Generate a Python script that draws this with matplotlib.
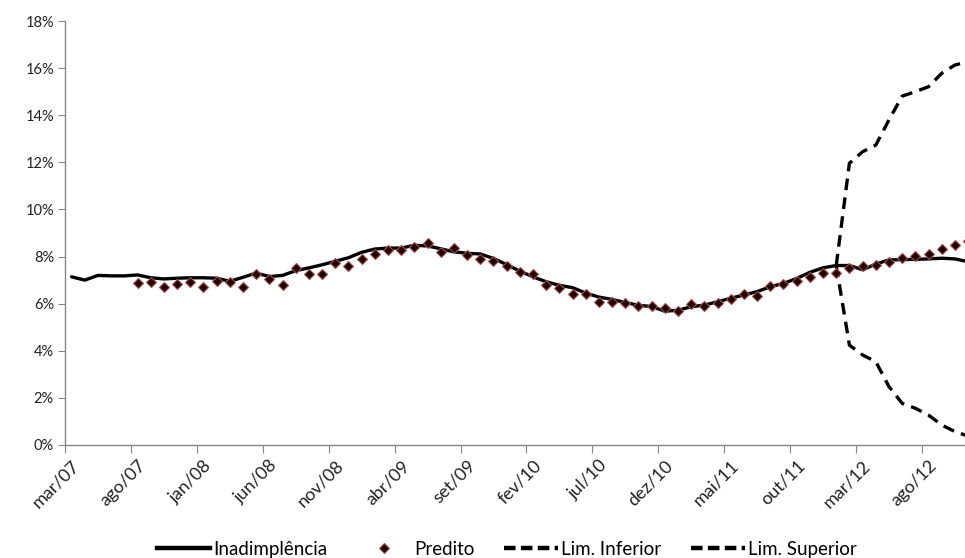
import numpy as np
import matplotlib
matplotlib.use("Agg")
import matplotlib.pyplot as plt
import matplotlib.transforms as mtransforms
from matplotlib.lines import Line2D

plt.rcParams['font.family'] = ['Lato', 'DejaVu Sans']

# monthly categories mar/07 .. nov/12 (69 months)
tick_labels = ["mar/07", "ago/07", "jan/08", "jun/08", "nov/08", "abr/09", "set/09",
               "fev/10", "jul/10", "dez/10", "mai/11", "out/11", "mar/12", "ago/12"]

inadimplencia = [7.14, 7.0, 7.2, 7.18, 7.18, 7.22, 7.1, 7.05, 7.08, 7.1,
                 7.1, 7.08, 6.95, 7.12, 7.3, 7.15, 7.2, 7.4, 7.52, 7.65,
                 7.8, 7.95, 8.18, 8.32, 8.36, 8.36, 8.48, 8.45, 8.33, 8.2,
                 8.14, 8.11, 7.92, 7.66, 7.38, 7.14, 6.93, 6.78, 6.68, 6.45,
                 6.28, 6.18, 6.05, 5.93, 5.88, 5.68, 5.72, 5.87, 5.94, 6.08,
                 6.23, 6.37, 6.51, 6.72, 6.86, 7.07, 7.33, 7.52, 7.62, 7.62,
                 7.44, 7.68, 7.86, 7.87, 7.88, 7.9, 7.93, 7.9, 7.78]

predito = [None] * 5 + [
    6.86, 6.93, 6.72, 6.82, 6.93, 6.72, 6.98, 6.92, 6.72, 7.28,
    7.06, 6.80, 7.52, 7.25, 7.24, 7.71, 7.58, 7.88, 8.10, 8.26,
    8.27, 8.41, 8.57, 8.20, 8.37, 8.08, 7.89, 7.83, 7.62, 7.33,
    7.27, 6.79, 6.65, 6.41, 6.41, 6.06, 6.08, 6.01, 5.90, 5.90,
    5.82, 5.70, 5.99, 5.89, 6.04, 6.18, 6.41, 6.32, 6.74, 6.83,
    6.95, 7.12, 7.29, 7.31, 7.52, 7.62, 7.64, 7.77, 7.95, 8.03,
    8.10, 8.30, 8.48, 8.66]

lim_inferior = [None] * 58 + [7.62, 4.24, 3.82, 3.54, 2.48, 1.77, 1.56, 1.27, 0.85, 0.57, 0.38]
lim_superior = [None] * 58 + [7.62, 11.96, 12.45, 12.73, 13.8, 14.81, 15.0, 15.21, 15.78, 16.13, 16.27]

def arr(v):
    return np.array([np.nan if a is None else a for a in v], dtype=float)

n = len(inadimplencia)
x = np.arange(n)

fig = plt.figure(figsize=(9.65, 5.58), dpi=100)
ax = fig.add_axes([65 / 965, 1 - 445 / 558, 1 - 65 / 965 + 0.01, (445 - 21) / 558])

ax.plot(x, arr(inadimplencia), color='black', lw=2.4, solid_capstyle='round', zorder=3)
ax.plot(x, arr(predito), ls='none', marker='D', ms=5.5, mfc='#1a0808', mec='#b04848',
        mew=0.8, zorder=4)
ax.plot(x, arr(lim_inferior), color='black', lw=2.4, ls=(0, (3.5, 2.2)), zorder=2)
ax.plot(x, arr(lim_superior), color='black', lw=2.4, ls=(0, (3.5, 2.2)), zorder=2)

ax.set_xlim(-0.5, n - 0.5)
ax.set_ylim(0, 18)
ax.set_yticks(np.arange(0, 19, 2))
ax.set_yticklabels([f"{v}%" for v in range(0, 19, 2)], fontsize=10.5, color='#222222')

# x ticks at category boundaries every 5 months, labels at categories
ax.set_xticks(np.arange(-0.5, n, 5))
ax.set_xticklabels([])
ax.set_xticks(np.arange(0, n, 5)[:len(tick_labels)], minor=True)
ax.set_xticklabels(tick_labels, minor=True, rotation=45, ha='right', va='top',
                   rotation_mode='anchor', fontsize=13, color='#222222')
offset = mtransforms.ScaledTranslation(6 / 100, 0, fig.dpi_scale_trans)
for lbl in ax.get_xticklabels(minor=True):
    lbl.set_transform(lbl.get_transform() + offset)
ax.tick_params(axis='x', which='minor', length=0, pad=9)
ax.tick_params(axis='x', which='major', length=6, color='#868686', direction='out')
ax.tick_params(axis='y', length=5, color='#868686', direction='out', pad=3)

for s in ['top', 'right']:
    ax.spines[s].set_visible(False)
for s in ['left', 'bottom']:
    ax.spines[s].set_color('#868686')
    ax.spines[s].set_linewidth(1.0)

handles = [
    Line2D([], [], color='black', lw=3.2),
    Line2D([], [], ls='none', marker='D', ms=5, mfc='#1a0808', mec='#b04848', mew=0.8),
    Line2D([], [], color='black', lw=3.2, ls=(0, (2.6, 1.2))),
    Line2D([], [], color='black', lw=3.2, ls=(0, (2.6, 1.2))),
]
labels = ["Inadimplência", "Predito", "Lim. Inferior", "Lim. Superior"]
fig.legend(handles, labels, loc='lower center', bbox_to_anchor=(0.525, -0.03), ncol=4,
           frameon=False, fontsize=13.5, handlelength=2.85, handletextpad=0.17,
           columnspacing=1.6)

fig.savefig("out.png", dpi=100)
